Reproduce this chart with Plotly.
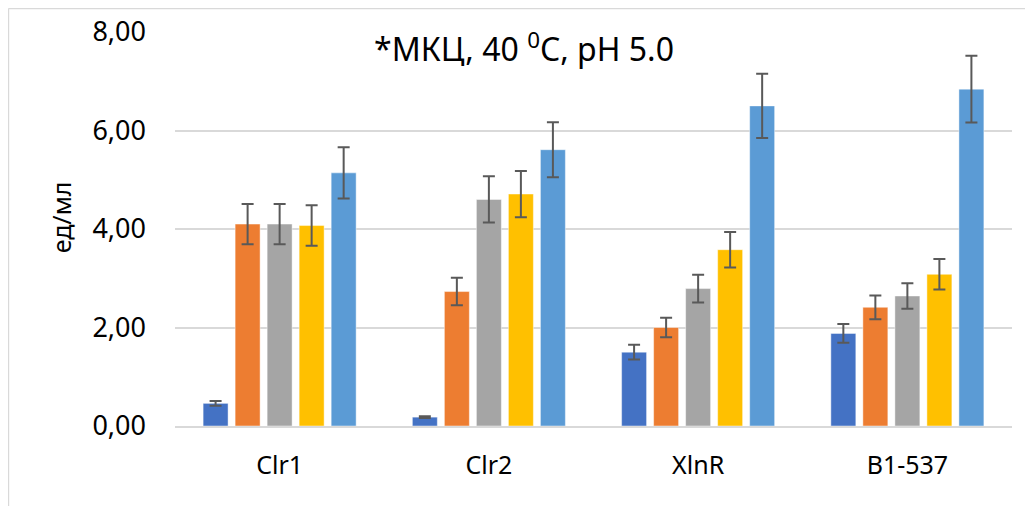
import plotly.graph_objects as go

categories = ["Clr1", "Clr2", "XlnR", "B1-537"]
series_names = ["Серия1", "Серия2", "Серия3", "Серия4", "Серия5"]
s1 = [0.46, 0.18, 1.50, 1.88]
e1 = [0.05, 0.02, 0.15, 0.19]
s2 = [4.10, 2.73, 2.00, 2.41]
e2 = [0.41, 0.28, 0.20, 0.24]
s3 = [4.10, 4.60, 2.79, 2.64]
e3 = [0.41, 0.47, 0.28, 0.26]
s4 = [4.07, 4.71, 3.58, 3.08]
e4 = [0.41, 0.47, 0.36, 0.31]
s5 = [5.14, 5.61, 6.50, 6.84]
e5 = [0.52, 0.56, 0.65, 0.68]
colors = ["#4472C4", "#ED7D31", "#A5A5A5", "#FFC000", "#5B9BD5"]
y_ticks = [0, 2, 4, 6, 8]

FONT = "Noto Sans"
fig = go.Figure()
for name, vals, errs, col in zip(series_names, [s1, s2, s3, s4, s5],
                                 [e1, e2, e3, e4, e5], colors):
    fig.add_trace(go.Bar(
        x=categories, y=vals, name=name,
        marker=dict(color=col, line=dict(color="rgba(255,255,255,0.45)", width=1)),
        error_y=dict(type="data", array=errs, visible=True,
                     color="#595959", thickness=2, width=6),
    ))

fig.update_layout(
    width=1025, height=498,
    margin=dict(l=167, r=21, t=24, b=80, autoexpand=False),
    paper_bgcolor="white", plot_bgcolor="white",
    barmode="group", bargap=0.235, bargroupgap=0.22,
    showlegend=False,
    separators=", ",
    font=dict(family=FONT, color="#000000"),
    xaxis=dict(showgrid=False, showline=True, linecolor="#d9d9d9", linewidth=1.5,
               ticks="", tickfont=dict(size=25, family=FONT),
               ticklabelstandoff=16, automargin=False),
    yaxis=dict(range=[0, 8], tickvals=y_ticks, tickformat=".2f",
               showgrid=True, gridcolor="#d9d9d9", gridwidth=1.5,
               zeroline=False, showline=False, ticks="",
               tickfont=dict(size=27, family=FONT), ticklabelstandoff=28,
               automargin=False),
    annotations=[
        dict(text="*МКЦ, 40 <sup>0</sup>C, pH 5.0", xref="paper", yref="paper",
             x=0.417, y=0.962, xanchor="center", yanchor="middle", showarrow=False,
             font=dict(size=32, family=FONT)),
        dict(text="ед/мл", xref="paper", yref="paper",
             x=-0.136, y=0.53, xanchor="center", yanchor="middle", showarrow=False,
             textangle=-90, font=dict(size=25, family=FONT)),
    ],
    shapes=[
        dict(type="line", xref="paper", yref="paper", x0=-0.199, x1=-0.199,
             y0=1.0597, y1=-0.25, line=dict(color="#d9d9d9", width=1.5)),
        dict(type="line", xref="paper", yref="paper", x0=-0.199, x1=1.05,
             y0=1.0597, y1=1.0597, line=dict(color="#d9d9d9", width=1.5)),
    ],
)

fig.write_html("out.html")
